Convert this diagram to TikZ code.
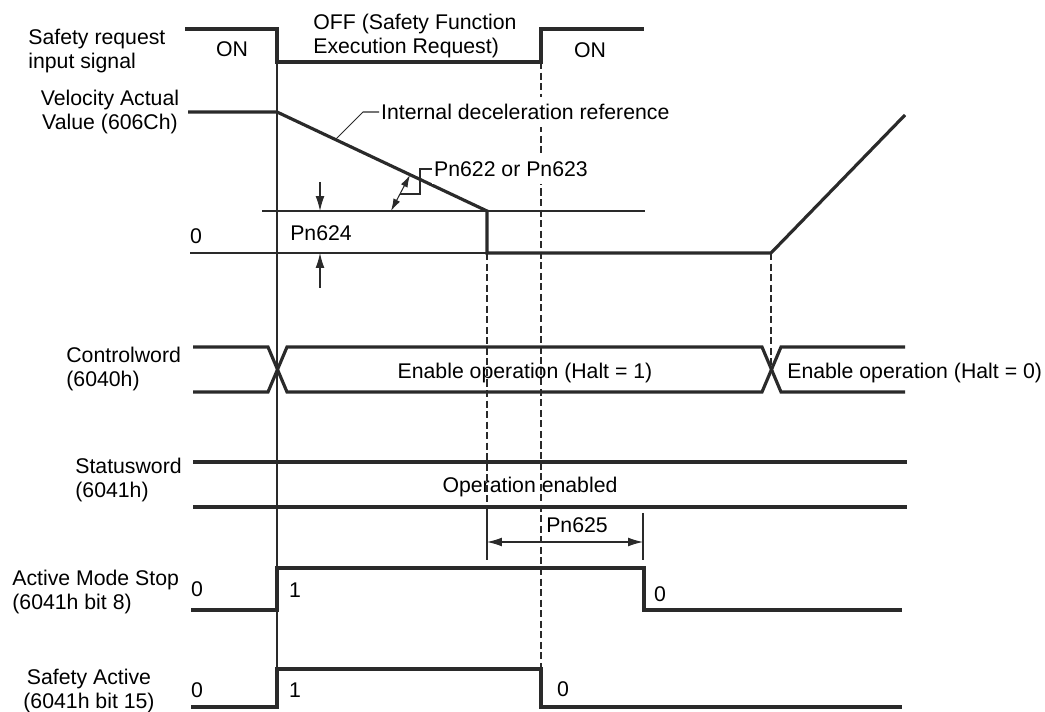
\documentclass[tikz,border=0pt]{standalone}
\usepackage{fontspec}
\setmainfont{Liberation Sans}
\usetikzlibrary{arrows.meta, positioning}
\definecolor{wire}{HTML}{2A2A2A}
\tikzset{
  sig/.style={draw=wire, line width=1.8pt},
  guide/.style={draw=wire, line width=0.6pt},
  dashguide/.style={guide, dash pattern=on 4pt off 2pt},
  txt/.style={font=\fontsize{12.1}{13.7}\selectfont, inner sep=0pt},
  signame/.style={txt, align=left, anchor=west},
  boxtxt/.style={txt, fill=white, inner xsep=1pt, inner ysep=4pt, anchor=west}
}
\tikzset{
  dimtip/.style={guide, -{Latex[length=8.5pt, width=5pt]}},
  dimboth/.style={guide, {Latex[length=8.5pt, width=5pt]}-{Latex[length=8.5pt, width=5pt]}},
  angboth/.style={guide, {Latex[length=7pt, width=4.2pt]}-{Latex[length=7pt, width=4.2pt]}}
}

\begin{document}
\begin{tikzpicture}[x=0.02cm, y=-0.02cm]
  \useasboundingbox (0,0) rectangle (1045,712);
  % signal names
  \node[signame] (nreq) at (28,51) {Safety request\\input signal};
  \node[txt, align=center] (nvel) at (110,112) {Velocity Actual\\Value (606Ch)};
  \node[txt] (vzero) at (196,236) {0};
  \node[signame] (nctl) at (66,369) {Controlword\\(6040h)};
  \node[signame] (nsta) at (75,480) {Statusword\\(6041h)};
  \node[signame] (nams) at (12,592) {Active Mode Stop\\(6041h bit 8)};
  \node[txt, align=center] (nsfa) at (89,691) {Safety Active\\(6041h bit 15)};
  % time guides
  \draw[guide] (277,62) -- (277,669);
  \draw[dashguide] (541,62) -- (541,669);
  \draw[dashguide] (487,253) -- (487,512);
  \draw[guide] (487,512) -- (487,560);
  \draw[dashguide] (771,253) -- (771,369);
  \draw[guide] (643,513) -- (643,560);
  % speed levels
  \draw[guide] (262,211) -- (645,211);
  \draw[guide] (190,253) -- (487,253);
  % safety request
  \draw[sig] (185,29) -- (277,29) -- (277,62) -- (541,62) -- (541,29) -- (644,29);
  \node[txt] (on1) at (232,49) {ON};
  \node[signame] (off) at (313,36) {OFF (Safety Function\\Execution Request)};
  \node[txt] (on2) at (590,50) {ON};
  % velocity
  \draw[sig] (188,112) -- (277,112) -- (487,211) -- (487,253) -- (771,253) -- (905,115);
  \node[boxtxt] (idr) at (379,112) {Internal deceleration reference};
  \draw[guide] (335,140) -- (363,112) -- (idr.west);
  \node[boxtxt] (pn622) at (432,169) {Pn622 or Pn623};
  \draw[angboth] (391,211) -- (410,175);
  \draw[guide] (400,194) -- (420,194) -- (420,169) -- (pn622.west);
  \draw[dimtip] (320,182) -- (320,211);
  \draw[dimtip] (320,288) -- (320,253);
  \node[txt] (pn624) at (321,233) {Pn624};
  % controlword bus
  \draw[sig] (193,347) -- (268,347) -- (287,392) -- (762,392) -- (781,347) -- (905,347);
  \draw[sig] (193,392) -- (268,392) -- (287,347) -- (762,347) -- (781,392) -- (905,392);
  \node[txt] (halt1) at (525,373) {Enable operation (Halt = 1)};
  \node[txt, anchor=west] (halt0) at (787,373) {Enable operation (Halt = 0)};
  % statusword bus
  \draw[sig] (193,462) -- (907,462);
  \draw[sig] (193,507) -- (907,507);
  \node[txt] (opena) at (530,487) {Operation enabled};
  % Pn625 delay
  \draw[dimboth] (487,542) -- (643,542);
  \node[txt] (pn625) at (577,525) {Pn625};
  % active mode stop
  \draw[sig] (191,610) -- (277,610) -- (277,568) -- (644,568) -- (644,610) -- (902,610);
  \node[txt] (ams0a) at (197,589) {0};
  \node[txt] (ams1) at (295,590) {1};
  \node[txt] (ams0b) at (660,594) {0};
  % safety active
  \draw[sig] (191,707) -- (277,707) -- (277,669) -- (541,669) -- (541,707) -- (902,707);
  \node[txt] (sfa0a) at (197,690) {0};
  \node[txt] (sfa1) at (295,690) {1};
  \node[txt] (sfa0b) at (563,689) {0};
\end{tikzpicture}
\end{document}
